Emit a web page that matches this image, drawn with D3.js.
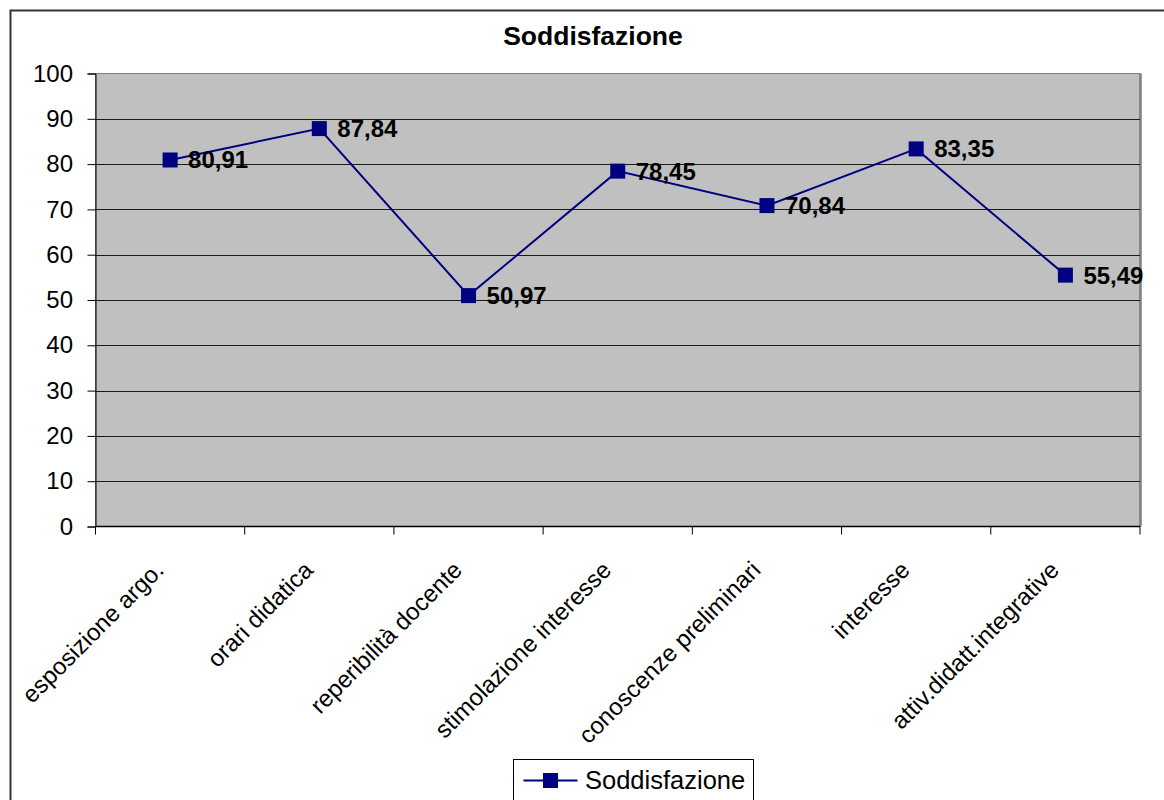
<!DOCTYPE html>
<html><head><meta charset="utf-8">
<script src="https://cdn.jsdelivr.net/npm/d3@7"></script>
<style>body{margin:0;background:#fff}svg{display:block;font-family:"Liberation Sans",Arial,sans-serif}</style>
</head><body>
<svg id="c" width="1164" height="800"></svg>
<script>
const categories = ["esposizione argo.","orari didatica","reperibilità docente","stimolazione interesse","conoscenze preliminari","interesse","attiv.didatt.integrative"];
const values = [80.91, 87.84, 50.97, 78.45, 70.84, 83.35, 55.49];
const valueLabels = ["80,91","87,84","50,97","78,45","70,84","83,35","55,49"];
const yTicks = [0,10,20,30,40,50,60,70,80,90,100];
const seriesName = "Soddisfazione";

const svg = d3.select("#c");
const L = 95.5, R = 1140, T = 73.5, B = 526.5;
// outer frame
svg.append("rect").attr("x",10.5).attr("y",10.5).attr("width",1170).attr("height",800).attr("fill","#fff").attr("stroke","#333").attr("stroke-width",2);
svg.append("text").attr("x",593).attr("y",45).attr("text-anchor","middle").attr("font-weight","bold").attr("font-size",26.5).text("Soddisfazione");

const x = d3.scaleBand().domain(categories).range([L,R]);
const y = d3.scaleLinear().domain([0,100]).range([B,T]);

svg.append("rect").attr("x",L).attr("y",T).attr("width",R-L).attr("height",B-T).attr("fill","#c0c0c0").attr("stroke","#808080").attr("stroke-width",1);
svg.append("line").attr("x1",R+0.5).attr("x2",R+0.5).attr("y1",T).attr("y2",B).attr("stroke","#808080").attr("stroke-width",2.5);
// gridlines
svg.append("g").selectAll("line").data(yTicks.filter(d=>d>0 && d<100)).join("line")
  .attr("x1",L).attr("x2",R).attr("y1",d=>Math.round(y(d))+0.5).attr("y2",d=>Math.round(y(d))+0.5).attr("stroke","#1a1a1a").attr("stroke-width",1);

// y axis
const ya = svg.append("g").attr("transform",`translate(${L},0)`).call(d3.axisLeft(y).tickValues(yTicks).tickSize(8).tickPadding(14.5).tickFormat(d3.format("d")));
ya.select(".domain").attr("stroke","#000");
ya.selectAll("text").attr("font-size",24).attr("fill","#000").attr("font-family","Liberation Sans, Arial, sans-serif");
// x axis
const xa = svg.append("g").attr("transform",`translate(0,${B})`);
xa.append("line").attr("x1",L).attr("x2",R).attr("stroke","#000").attr("stroke-width",1.5);
const edges = categories.map(c=>x(c)).concat([R]);
xa.selectAll("line.t").data(edges).join("line").attr("class","t").attr("x1",d=>d).attr("x2",d=>d).attr("y1",0).attr("y2",8).attr("stroke","#000");
xa.selectAll("text.l").data(categories).join("text").attr("class","l")
  .attr("transform",d=>`translate(${x(d)+x.bandwidth()/2-5},${45}) rotate(-45)`)
  .attr("text-anchor","end").attr("font-size",24).attr("fill","#000").text(d=>d);

// line
const cx = (d,i)=>x(categories[i])+x.bandwidth()/2;
svg.append("path").datum(values).attr("fill","none").attr("stroke","#000080").attr("stroke-width",2)
  .attr("d",d3.line().x(cx).y(d=>y(d)));
svg.append("g").selectAll("rect").data(values).join("rect")
  .attr("x",(d,i)=>cx(d,i)-7.5).attr("y",d=>y(d)-7.5).attr("width",15).attr("height",15).attr("fill","#000080");
svg.append("g").selectAll("text").data(values).join("text")
  .attr("x",(d,i)=>cx(d,i)+18).attr("y",d=>y(d)+8.5).attr("font-size",24).attr("font-weight","bold").attr("fill","#000")
  .text((d,i)=>valueLabels[i]);

// legend
const lg = svg.append("g").attr("transform","translate(513.5,759.5)");
lg.append("rect").attr("width",240).attr("height",50).attr("fill","#fff").attr("stroke","#000");
lg.append("line").attr("x1",10).attr("x2",64).attr("y1",21).attr("y2",21).attr("stroke","#000080").attr("stroke-width",2);
lg.append("rect").attr("x",29.5).attr("y",13.5).attr("width",15).attr("height",15).attr("fill","#000080");
lg.append("text").attr("x",71.5).attr("y",29.5).attr("font-size",25.5).attr("fill","#000").text(seriesName);
</script>
</body></html>
